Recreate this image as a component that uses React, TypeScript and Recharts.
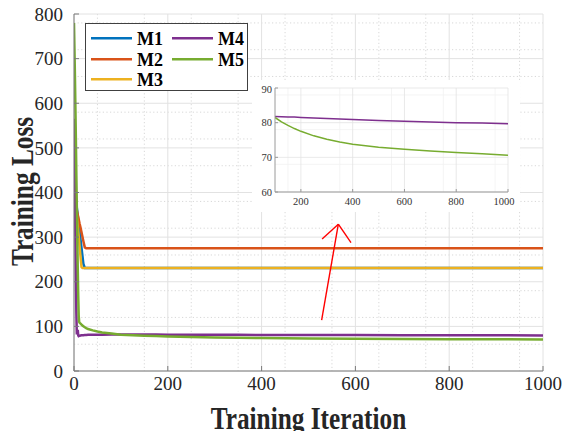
import React from 'react';
import { LineChart, Line, XAxis, YAxis, CartesianGrid, ReferenceLine, Legend } from 'recharts';

const iterations = [0, 1, 2, 3, 4, 5, 6, 7, 8, 9, 10, 11, 12, 14, 16, 18, 20, 23, 26, 30, 40, 50, 60, 80, 100, 125, 150, 175, 200, 250, 300, 350, 400, 500, 600, 700, 800, 900, 1000];
const m1 = [510, 470, 430, 400, 385, 375, 366, 357, 348, 339, 330, 321, 312, 294, 276, 258, 240, 231, 231, 231, 231, 231, 231, 231, 231, 231, 231, 231, 231, 231, 231, 231, 231, 231, 231, 231, 231, 231, 231];
const m2 = [520, 490, 455, 420, 390, 365, 360, 355, 350, 345, 340, 335, 330, 321, 311, 301, 291, 277, 275, 275, 275, 275, 275, 275, 275, 275, 275, 275, 275, 275, 275, 275, 275, 275, 275, 275, 275, 275, 275];
const m3 = [500, 460, 430, 400, 375, 360, 348, 336, 325, 313, 302, 290, 278, 255, 233, 231, 231, 231, 231, 231, 231, 231, 231, 231, 231, 231, 231, 231, 231, 231, 231, 231, 231, 231, 231, 231, 231, 231, 231];
const m4 = [565, 480, 390, 300, 210, 130, 82, 88, 92, 80, 78, 78.5, 79, 79.5, 80, 80, 80.3, 80.5, 80.7, 81, 81.2, 81.4, 81.5, 81.7, 81.8, 81.7, 81.6, 81.6, 81.5, 81.35, 81.2, 81.05, 80.9, 80.6, 80.4, 80.2, 80.0, 79.9, 79.7];
const m5 = [780, 720, 660, 590, 520, 440, 370, 300, 230, 170, 125, 110, 108, 106, 104, 102, 100, 98, 96, 94, 91, 88.5, 86.5, 83.8, 81.5, 80.2, 79.2, 78.3, 77.5, 76.2, 75.2, 74.4, 73.8, 72.9, 72.3, 71.8, 71.4, 71.0, 70.6];

const seriesNames = ['M1', 'M2', 'M3', 'M4', 'M5'];
const seriesColors = ['#0072BD', '#D95319', '#EDB120', '#7E2F8E', '#77AC30'];
const seriesValues = [m1, m2, m3, m4, m5];

const xTicks = [0, 200, 400, 600, 800, 1000];
const yTicks = [0, 100, 200, 300, 400, 500, 600, 700, 800];
const xMinor = Array.from({ length: 21 }, (_, i) => i * 50).filter((v) => v % 200 !== 0);
const yMinor = Array.from({ length: 41 }, (_, i) => i * 20).filter((v) => v % 100 !== 0);

const insetXTicks = [200, 400, 600, 800, 1000];
const insetYTicks = [60, 70, 80, 90];
const insetXMinor = Array.from({ length: 19 }, (_, i) => 100 + i * 50).filter((v) => v % 200 !== 0);
const insetYMinor = Array.from({ length: 16 }, (_, i) => 60 + i * 2).filter((v) => v % 10 !== 0);

const arrowShaft = [{ x: 528, y: 114 }, { x: 563.6, y: 329 }];
const arrowHeadLeft = [{ x: 529, y: 296 }, { x: 563.6, y: 329 }];
const arrowHeadRight = [{ x: 590.6, y: 287.7 }, { x: 563.6, y: 329 }];

const data = iterations.map((it, i) => {
  const row: Record<string, number> = { it };
  seriesNames.forEach((n, k) => {
    row[n] = seriesValues[k][i];
  });
  return row;
});
const insetData = data.filter((d) => d.it >= 100);

const FONT = "'Liberation Serif', 'Times New Roman', serif";
const AXIS = '#7a7a7a';

const MainTick = (props: any) => {
  const { x, y, payload, textAnchor, verticalAnchor } = props;
  const dy = verticalAnchor === 'start' ? '0.71em' : verticalAnchor === 'end' ? '0em' : '0.355em';
  return (
    <text x={x} y={y} dy={dy} textAnchor={textAnchor} fontFamily={FONT} fontSize={19} fill="#262626">
      {payload.value}
    </text>
  );
};

const InsetTick = (props: any) => {
  const { x, y, payload, textAnchor, verticalAnchor } = props;
  const dy = verticalAnchor === 'start' ? '0.71em' : verticalAnchor === 'end' ? '0em' : '0.355em';
  return (
    <text x={x} y={y} dy={dy} textAnchor={textAnchor} fontFamily={FONT} fontSize={10.5} fill="#333">
      {payload.value}
    </text>
  );
};

const XLabel = (props: any) => {
  const vb = props.viewBox || { x: 74, y: 371, width: 469, height: 60 };
  const cx = vb.x + vb.width / 2;
  const by = vb.y + 58;
  return (
    <text
      transform={`translate(${cx},${by}) scale(1,1.26)`}
      textAnchor="middle"
      fontFamily={FONT}
      fontWeight="bold"
      fontSize={25.3}
      fill="#262626"
    >
      Training Iteration
    </text>
  );
};

const YLabel = (props: any) => {
  const vb = props.viewBox || { x: 0, y: 14, width: 74, height: 357 };
  const cy = vb.y + vb.height / 2 - 1;
  return (
    <text
      transform={`translate(33,${cy}) rotate(-90) scale(1,1.26)`}
      textAnchor="middle"
      fontFamily={FONT}
      fontWeight="bold"
      fontSize={25.3}
      fill="#262626"
    >
      Training Loss
    </text>
  );
};

const LegendBox = () => {
  const rows = [
    { n: 0, col: 0, row: 0 },
    { n: 1, col: 0, row: 1 },
    { n: 2, col: 0, row: 2 },
    { n: 3, col: 1, row: 0 },
    { n: 4, col: 1, row: 1 },
  ];
  const lineY = [14.3, 35.3, 55.3];
  const textY = [21, 42, 62];
  const lineX = [5, 86];
  const textX = [51, 132];
  return (
    <div
      style={{
        width: 163,
        height: 68,
        boxSizing: 'border-box',
        border: '1px solid #404040',
        background: '#fff',
      }}
    >
      <svg width={161} height={66} style={{ display: 'block' }}>
        {rows.map((r) => (
          <g key={r.n}>
            <line
              x1={lineX[r.col]}
              x2={lineX[r.col] + 41}
              y1={lineY[r.row]}
              y2={lineY[r.row]}
              stroke={seriesColors[r.n]}
              strokeWidth={2.6}
            />
            <text
              x={textX[r.col]}
              y={textY[r.row]}
              fontFamily={FONT}
              fontWeight="bold"
              fontSize={18}
              fill="#000"
            >
              {seriesNames[r.n]}
            </text>
          </g>
        ))}
      </svg>
    </div>
  );
};

export default function App() {
  return (
    <div style={{ position: 'absolute', left: 0, top: 0, width: 563, height: 431, background: '#fff', overflow: 'hidden', fontFamily: FONT }}>
      <LineChart width={563} height={431} data={data} margin={{ top: 14, right: 20, left: 0, bottom: 0 }} style={{ fontFamily: FONT }}>
        <CartesianGrid
          verticalValues={xMinor}
          horizontalValues={yMinor}
          stroke="#d4d4d4"
          strokeDasharray="1.2 2.4"
          strokeWidth={0.9}
        />
        <CartesianGrid verticalValues={xTicks} horizontalValues={yTicks} stroke="#e2e2e2" strokeWidth={1} />
        <XAxis
          dataKey="it"
          type="number"
          domain={[0, 1000]}
          ticks={xTicks}
          allowDataOverflow
          height={60}
          tickSize={-5}
          tickMargin={10.5}
          axisLine={{ stroke: AXIS }}
          tickLine={{ stroke: AXIS }}
          tick={<MainTick />}
          label={<XLabel />}
        />
        <XAxis
          xAxisId="top"
          orientation="top"
          type="number"
          dataKey="it"
          domain={[0, 1000]}
          ticks={xTicks}
          height={0}
          tickSize={-5}
          tick={false}
          axisLine={{ stroke: AXIS }}
          tickLine={{ stroke: AXIS }}
        />
        <YAxis
          type="number"
          domain={[0, 800]}
          ticks={yTicks}
          allowDataOverflow
          width={74}
          tickSize={-5}
          tickMargin={16}
          axisLine={{ stroke: AXIS }}
          tickLine={{ stroke: AXIS }}
          tick={<MainTick />}
          label={<YLabel />}
        />
        <YAxis
          yAxisId="right"
          orientation="right"
          type="number"
          domain={[0, 800]}
          ticks={yTicks}
          width={0}
          tickSize={-5}
          tick={false}
          axisLine={{ stroke: AXIS }}
          tickLine={{ stroke: AXIS }}
        />
        {seriesNames.map((n, k) => (
          <Line
            key={n}
            type="linear"
            dataKey={n}
            stroke={seriesColors[k]}
            strokeWidth={2.5}
            dot={false}
            isAnimationActive={false}
          />
        ))}
        <ReferenceLine segment={arrowShaft} stroke="#ff0000" strokeWidth={1.4} />
        <ReferenceLine segment={arrowHeadLeft} stroke="#ff0000" strokeWidth={1.4} />
        <ReferenceLine segment={arrowHeadRight} stroke="#ff0000" strokeWidth={1.4} />
        <Legend
          layout="vertical"
          align="center"
          verticalAlign="middle"
          content={<LegendBox />}
          wrapperStyle={{ position: 'absolute', left: 85, top: 23, width: 163, height: 68 }}
        />
      </LineChart>
      <div style={{ position: 'absolute', left: 252, top: 80, width: 268, height: 132, background: '#fff' }}>
        <LineChart width={268} height={132} data={insetData} margin={{ top: 8, right: 12, left: 0, bottom: 0 }} style={{ fontFamily: FONT }}>
          <CartesianGrid verticalValues={insetXMinor} horizontalValues={insetYMinor} stroke="#f1f1f1" strokeWidth={0.8} />
          <CartesianGrid verticalValues={insetXTicks} horizontalValues={insetYTicks} stroke="#e3e3e3" strokeWidth={0.8} />
          <XAxis
            dataKey="it"
            type="number"
            domain={[100, 1000]}
            ticks={insetXTicks}
            allowDataOverflow
            height={20}
            tickSize={-3}
            tickMargin={8.4}
            axisLine={{ stroke: '#9a9a9a' }}
            tickLine={{ stroke: '#9a9a9a' }}
            tick={<InsetTick />}
          />
          <XAxis
            xAxisId="top"
            orientation="top"
            dataKey="it"
            type="number"
            domain={[100, 1000]}
            ticks={insetXTicks}
            height={0}
            tickSize={-3}
            tick={false}
            axisLine={{ stroke: '#9a9a9a' }}
            tickLine={{ stroke: '#9a9a9a' }}
          />
          <YAxis
            type="number"
            domain={[60, 90]}
            ticks={insetYTicks}
            allowDataOverflow
            width={23}
            tickSize={-3}
            tickMargin={6}
            axisLine={{ stroke: '#9a9a9a' }}
            tickLine={{ stroke: '#9a9a9a' }}
            tick={<InsetTick />}
          />
          <YAxis
            yAxisId="right"
            orientation="right"
            type="number"
            domain={[60, 90]}
            ticks={insetYTicks}
            width={0}
            tickSize={-3}
            tick={false}
            axisLine={{ stroke: '#9a9a9a' }}
            tickLine={{ stroke: '#9a9a9a' }}
          />
          <Line type="linear" dataKey="M4" stroke={seriesColors[3]} strokeWidth={1.5} dot={false} isAnimationActive={false} />
          <Line type="linear" dataKey="M5" stroke={seriesColors[4]} strokeWidth={1.5} dot={false} isAnimationActive={false} />
        </LineChart>
      </div>
    </div>
  );
}
